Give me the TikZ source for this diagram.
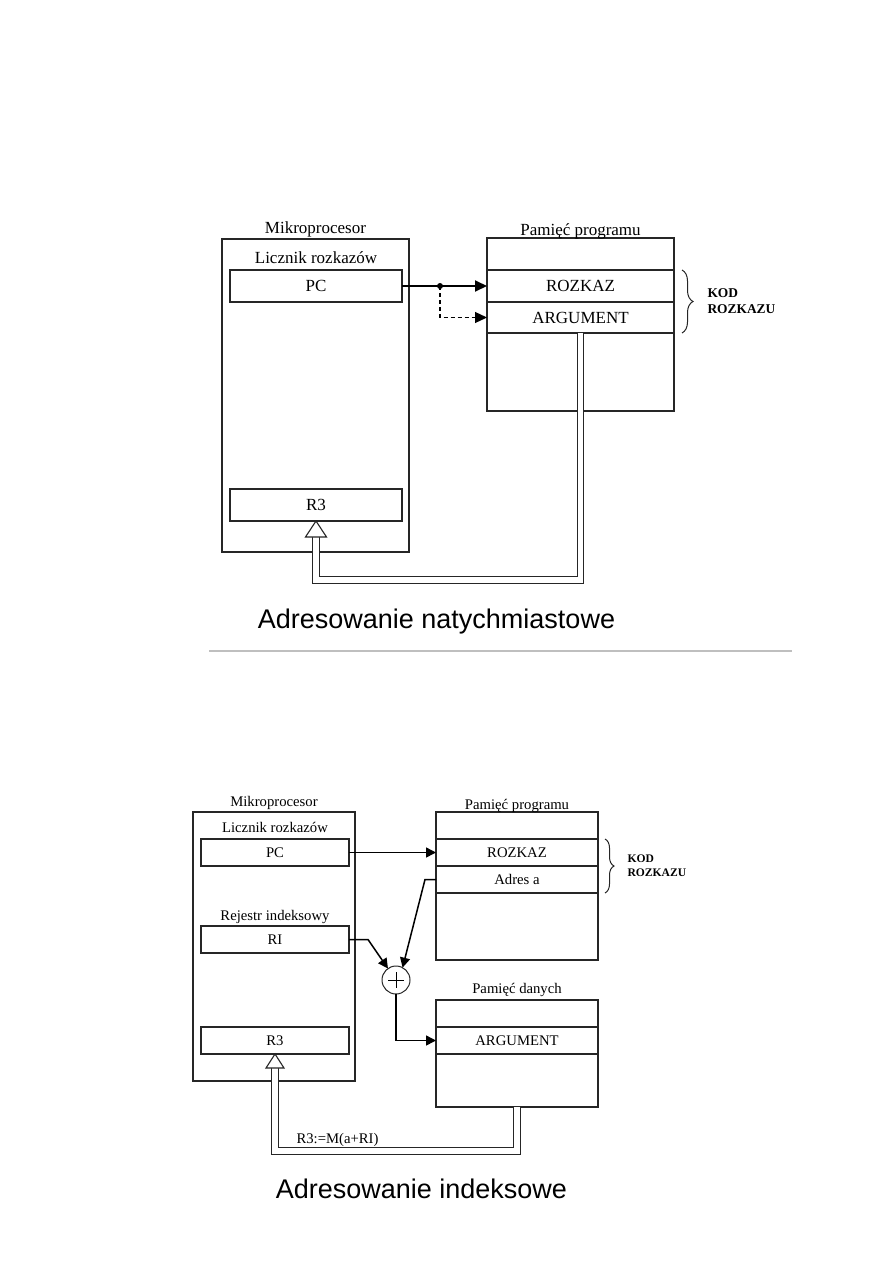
\documentclass[tikz,border=0pt]{standalone}
\usepackage{fontspec}
\setmainfont{Liberation Serif}
\newfontfamily\titlefont{Liberation Sans}
\usetikzlibrary{arrows.meta,calc,decorations.pathreplacing}
\begin{document}
\begin{tikzpicture}[x=1pt,y=-1pt,
  box/.style={draw=black!85, line width=1.1pt, inner sep=0pt, outer sep=0pt, fill=white},
  bigtxt/.style={font=\fontsize{17}{19}\selectfont},
  smalltxt/.style={font=\fontsize{14.7}{17}\selectfont},
  kod1/.style={font=\fontsize{13.4}{15}\selectfont\bfseries, anchor=base west},
  kod2/.style={font=\fontsize{11.6}{13}\selectfont\bfseries, anchor=base west},
  titletxt/.style={font=\titlefont\fontsize{27}{30}\selectfont, anchor=base},
  arrowA/.style={line width=1.9pt, -{Triangle[length=12pt,width=11pt]}},
  arrowD/.style={line width=1.2pt, dashed, dash pattern=on 4pt off 3pt, -{Triangle[length=12pt,width=11pt]}},
  arrowB/.style={line width=1.5pt, -{Triangle[length=10pt,width=10pt]}},
  dbl/.style={draw=black!85, line width=1.1pt, double=white, double distance=5.5pt},
  hollowhead/.style={draw=black!85, line width=1.1pt, fill=white, line join=miter},
  bracestyle/.style={draw=black!85, line width=1pt, decorate}
]
\useasboundingbox (0,0) rectangle (893,1263);

% ================= upper diagram =================
\node[box, minimum width=187pt, minimum height=313pt] (mp1) at (315.5,395.5) {};
\node[bigtxt, anchor=base] (mp1lab) at (315.5,233) {Mikroprocesor};
\node[bigtxt, anchor=base] (lr1) at (316,263) {Licznik rozkazów};
\node[box, bigtxt, minimum width=172pt, minimum height=32pt] (pc1) at (316,286) {PC};
\node[box, bigtxt, minimum width=172pt, minimum height=32pt] (r31) at (316,505) {R3};

\node[box, minimum width=187pt, minimum height=173pt] (pp1) at (580.5,324.5) {};
\node[bigtxt, anchor=base] (pp1lab) at (580.5,235) {Pamięć programu};
\node[box, bigtxt, minimum width=187pt, minimum height=32pt] (rozkaz1) at (580.5,286) {ROZKAZ};
\node[box, bigtxt, minimum width=187pt, minimum height=31pt] (arg1) at (580.5,317.5) {ARGUMENT};

\draw[bracestyle, decoration={brace, amplitude=11pt}] ($(rozkaz1.north east)+(8,0)$) coordinate (br1a) -- ($(arg1.south east)+(8,0)$) coordinate (br1b);
\node[kod1] (kod1a) at (704,297) {KOD};
\node[kod1] (kod1b) at (704,313) {ROZKAZU};

\coordinate (j1) at (440,286);
\draw[arrowA] (pc1.east) -- (rozkaz1.west);
\draw[arrowD] (j1) |- (arg1.west);
\fill (j1) circle (3pt);

\coordinate (b1) at (316,580);
\draw[dbl] (arg1.south) |- (b1) -- ($(r31.south)+(0,16)$);
\draw[hollowhead] ($(r31.south)+(-10.5,16)$) -- (r31.south) -- ($(r31.south)+(10.5,16)$) -- cycle;

\node[titletxt] (t1) at (436.5,628) {Adresowanie natychmiastowe};

\draw[black!25, line width=1.2pt] (209,651) coordinate (s1) -- (792,651) coordinate (s2);

% ================= lower diagram =================
\node[box, minimum width=162pt, minimum height=269pt] (mp2) at (274,946.5) {};
\node[smalltxt, anchor=base] (mp2lab) at (274,806) {Mikroprocesor};
\node[smalltxt, anchor=base] (lr2) at (275,832) {Licznik rozkazów};
\node[box, smalltxt, minimum width=148pt, minimum height=27pt] (pc2) at (275,852.5) {PC};
\node[smalltxt, anchor=base] (rl2) at (275,920) {Rejestr indeksowy};
\node[box, smalltxt, minimum width=148pt, minimum height=27pt] (ri2) at (275,939.5) {RI};
\node[box, smalltxt, minimum width=148pt, minimum height=27pt] (r32) at (275,1040.5) {R3};

\node[box, minimum width=162pt, minimum height=148pt] (pp2) at (517,886) {};
\node[smalltxt, anchor=base] (pp2lab) at (517,809) {Pamięć programu};
\node[box, smalltxt, minimum width=162pt, minimum height=27pt] (rozkaz2) at (517,852.5) {ROZKAZ};
\node[box, smalltxt, minimum width=162pt, minimum height=27pt] (adres2) at (517,879.5) {Adres a};

\draw[bracestyle, decoration={brace, amplitude=9pt}] ($(rozkaz2.north east)+(7,0)$) coordinate (br2a) -- ($(adres2.south east)+(7,0)$) coordinate (br2b);
\node[kod2] (kod2a) at (624,862) {KOD};
\node[kod2] (kod2b) at (624,876) {ROZKAZU};

\node[box, minimum width=162pt, minimum height=107pt] (pd2) at (517,1053.5) {};
\node[smalltxt, anchor=base] (pd2lab) at (517,993) {Pamięć danych};
\node[box, smalltxt, minimum width=162pt, minimum height=27pt] (arg2) at (517,1040.5) {ARGUMENT};

\node[draw=black!85, line width=1pt, circle, minimum size=28pt, inner sep=0pt, outer sep=0pt, fill=white] (sum) at (396,980) {};
\draw[line width=1pt] ($(sum.center)+(-8,0)$) -- ($(sum.center)+(8,0)$);
\draw[line width=1pt] ($(sum.center)+(0,-8)$) -- ($(sum.center)+(0,8)$);

\draw[arrowB] (pc2.east) -- (rozkaz2.west);
\coordinate (a2) at (425,879.5);
\draw[arrowB] (adres2.west) -- (a2) -- (sum.62);
\coordinate (ri2b) at (368,939.5);
\draw[arrowB] (ri2.east) -- (ri2b) -- (sum.125);
\draw[arrowB] (sum.south) |- (arg2.west);

\coordinate (b2) at (275,1151);
\draw[dbl] (pd2.south) |- (b2) -- ($(r32.south)+(0,14)$);
\draw[hollowhead] ($(r32.south)+(-9,14)$) -- (r32.south) -- ($(r32.south)+(9,14)$) -- cycle;
\node[font=\fontsize{14.7}{16}\selectfont, anchor=base west] (form) at (293,1143) {R3:=M(a+RI)};

\node[titletxt] (t2) at (421.5,1198) {Adresowanie indeksowe};
\end{tikzpicture}
\end{document}
